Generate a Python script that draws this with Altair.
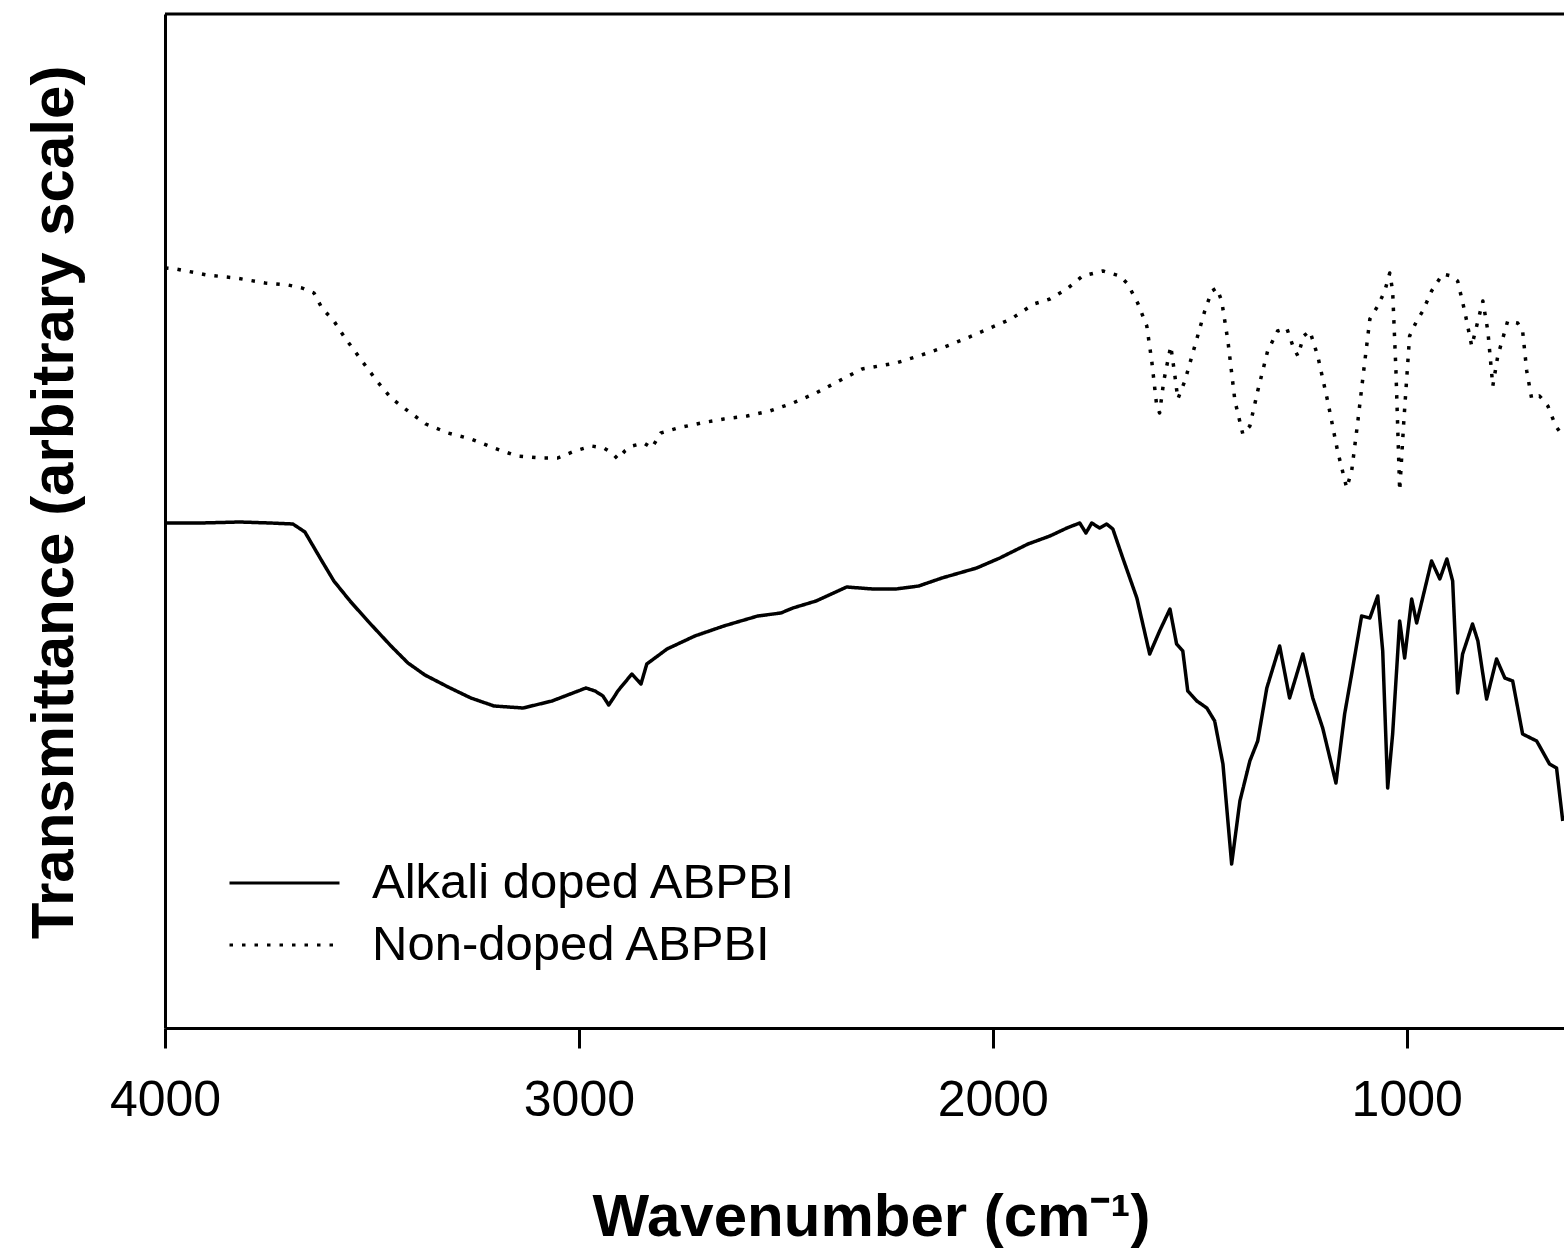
import altair as alt
import pandas as pd

# ---- data ----
alkali_wn = [4000, 3915, 3819, 3746, 3691, 3662, 3621, 3592, 3553, 3510, 3454, 3413, 3372, 3316,
             3261, 3205, 3135, 3065, 2983, 2961, 2942, 2928, 2915, 2906, 2872, 2850, 2836, 2787,
             2720, 2650, 2568, 2512, 2483, 2427, 2353, 2290, 2234, 2179, 2123, 2039, 1983, 1915,
             1862, 1821, 1790, 1775, 1761, 1742, 1725, 1710, 1686, 1652, 1621, 1597, 1572, 1556,
             1541, 1529, 1507, 1483, 1464, 1444, 1423, 1403, 1379, 1360, 1338, 1307, 1283, 1251,
             1227, 1203, 1171, 1150, 1133, 1109, 1089, 1070, 1058, 1046, 1034, 1017, 1005, 988,
             976, 940, 920, 903, 889, 877, 865, 841, 828, 807, 783, 763, 744, 720, 686, 655, 638, 623]
alkali_t = [50.5, 50.5, 50.6, 50.5, 50.4, 49.6, 46.7, 44.7, 42.7, 40.7, 38.2, 36.5, 35.3, 34.1,
            33.0, 32.2, 32.0, 32.7, 34.0, 33.7, 33.2, 32.3, 33.1, 33.7, 35.4, 34.4, 36.4, 37.9,
            39.2, 40.2, 41.2, 41.5, 42.0, 42.7, 44.1, 43.9, 43.9, 44.2, 45.0, 46.0, 47.0, 48.4,
            49.2, 50.0, 50.5, 49.5, 50.5, 50.0, 50.4, 49.9, 47.0, 43.0, 37.4, 39.7, 41.9, 38.4,
            37.7, 33.7, 32.7, 32.0, 30.7, 26.4, 16.4, 22.7, 26.7, 28.7, 34.0, 38.2, 33.0, 37.4,
            33.0, 30.0, 24.5, 31.4, 35.4, 41.2, 41.0, 43.2, 37.7, 24.0, 29.4, 40.7, 37.0, 42.9,
            40.5, 46.7, 44.9, 46.9, 44.7, 33.5, 37.4, 40.4, 38.7, 32.9, 36.9, 35.0, 34.7, 29.4,
            28.7, 26.4, 26.0, 20.7]

nondoped_wn = [4000, 3973, 3899, 3828, 3758, 3703, 3669, 3640, 3621, 3592, 3565, 3524, 3488, 3454,
               3413, 3370, 3316, 3261, 3205, 3150, 3094, 3051, 3010, 2969, 2940, 2920, 2906, 2889,
               2872, 2843, 2824, 2802, 2761, 2705, 2650, 2594, 2539, 2483, 2427, 2372, 2316, 2234,
               2179, 2123, 2068, 2012, 1956, 1901, 1862, 1821, 1783, 1734, 1693, 1674, 1650, 1628,
               1616, 1604, 1597, 1587, 1570, 1560, 1553, 1536, 1512, 1488, 1471, 1459, 1447, 1432,
               1415, 1396, 1379, 1360, 1336, 1312, 1290, 1275, 1263, 1249, 1234, 1215, 1191, 1167,
               1145, 1133, 1118, 1104, 1089, 1070, 1053, 1041, 1034, 1026, 1017, 1007, 993, 976,
               961, 940, 913, 891, 877, 860, 843, 828, 816, 804, 792, 780, 756, 732, 720, 710,
               698, 679, 659, 640, 623]
nondoped_t = [76.0, 75.9, 75.3, 75.0, 74.5, 74.3, 74.0, 73.5, 72.0, 70.7, 69.0, 66.7, 64.7, 63.0,
              61.7, 60.4, 59.5, 58.9, 58.0, 57.2, 57.0, 57.0, 57.7, 58.2, 58.0, 57.5, 56.9, 57.7,
              58.2, 58.5, 58.0, 59.5, 60.0, 60.5, 60.9, 61.2, 61.7, 62.5, 63.5, 64.7, 65.9, 66.5,
              67.2, 68.0, 68.9, 69.9, 70.9, 72.4, 72.9, 73.9, 75.2, 75.7, 75.2, 74.4, 72.5, 70.2,
              66.7, 62.2, 61.5, 64.7, 68.2, 65.2, 62.9, 64.7, 68.2, 71.7, 73.7, 74.0, 72.7, 68.7,
              62.7, 59.4, 60.2, 63.7, 67.7, 69.7, 70.0, 68.2, 67.2, 69.2, 69.7, 67.2, 62.7, 57.7,
              54.0, 55.7, 60.7, 65.7, 70.9, 72.2, 73.7, 75.5, 73.7, 65.7, 53.7, 60.7, 69.2, 70.7,
              71.7, 73.7, 75.4, 75.2, 74.7, 71.7, 68.2, 70.7, 72.7, 69.7, 64.2, 67.2, 70.7, 70.5,
              69.7, 65.7, 62.9, 63.2, 62.2, 60.2, 59.2]

series_names = ["Alkali doped ABPBI", "Non-doped ABPBI"]
x_ticks = [4000, 3000, 2000, 1000]

rows = []
for i, (w, t) in enumerate(zip(alkali_wn, alkali_t)):
    rows.append({"wn": w, "t": t, "series": series_names[0], "order": i})
for i, (w, t) in enumerate(zip(nondoped_wn, nondoped_t)):
    rows.append({"wn": w, "t": t, "series": series_names[1], "order": i})
df = pd.DataFrame(rows)

W, H = 1399, 1014
FONT = "Liberation Sans"

lines = alt.Chart(df).mark_line(strokeWidth=3.5, color="black", clip=True, strokeCap="butt",
                                strokeJoin="round").encode(
    x=alt.X("wn:Q",
            scale=alt.Scale(domain=[620, 4000], reverse=True, nice=False, zero=False),
            axis=alt.Axis(values=x_ticks, format="d", grid=False,
                          domainWidth=3, domainColor="black",
                          tickSize=20, tickWidth=3, tickColor="black",
                          labelFont=FONT, labelFontSize=50, labelColor="black",
                          labelBaseline="alphabetic", labelPadding=67, labelFlush=False,
                          title="Wavenumber (cm\u207b\u00b9)", titleFont=FONT, titleFontSize=60,
                          titleFontWeight="bold", titleColor="black",
                          titleX=706, titleY=207, titleBaseline="alphabetic", titleAlign="center")),
    y=alt.Y("t:Q",
            scale=alt.Scale(domain=[0, 101.4], nice=False, zero=False),
            axis=alt.Axis(labels=False, ticks=False, grid=False,
                          domainWidth=3, domainColor="black",
                          title="Transmittance (arbitrary scale)", titleFont=FONT,
                          titleFontSize=60, titleFontWeight="bold", titleColor="black",
                          titleAngle=-90, titleX=-93, titleY=488,
                          titleBaseline="alphabetic", titleAlign="center")),
    strokeDash=alt.StrokeDash("series:N",
                              scale=alt.Scale(domain=series_names, range=[[1, 0], [3.5, 9]]),
                              legend=alt.Legend(orient="none", legendX=63, legendY=841,
                                                title=None, symbolType="stroke",
                                                symbolSize=12100, symbolStrokeWidth=3,
                                                symbolStrokeColor="black",
                                                labelFont=FONT, labelFontSize=49,
                                                labelColor="black", labelOffset=31,
                                                labelLimit=0,
                                                clipHeight=56, rowPadding=6, padding=0)),
    order="order:Q",
)

top_border = alt.Chart(pd.DataFrame({"a": [0]})).mark_rule(strokeWidth=3, color="black").encode(
    x=alt.value(0), x2=alt.value(W), y=alt.value(0)
)

chart = alt.layer(lines, top_border).properties(
    width=W, height=H,
    autosize=alt.AutoSizeParams(type="none"),
    padding={"left": 165, "top": 14, "right": 0, "bottom": 220},
    background="white",
).configure_view(strokeWidth=0)

chart.save("out.html", embed_options={"renderer": "svg", "actions": False})
